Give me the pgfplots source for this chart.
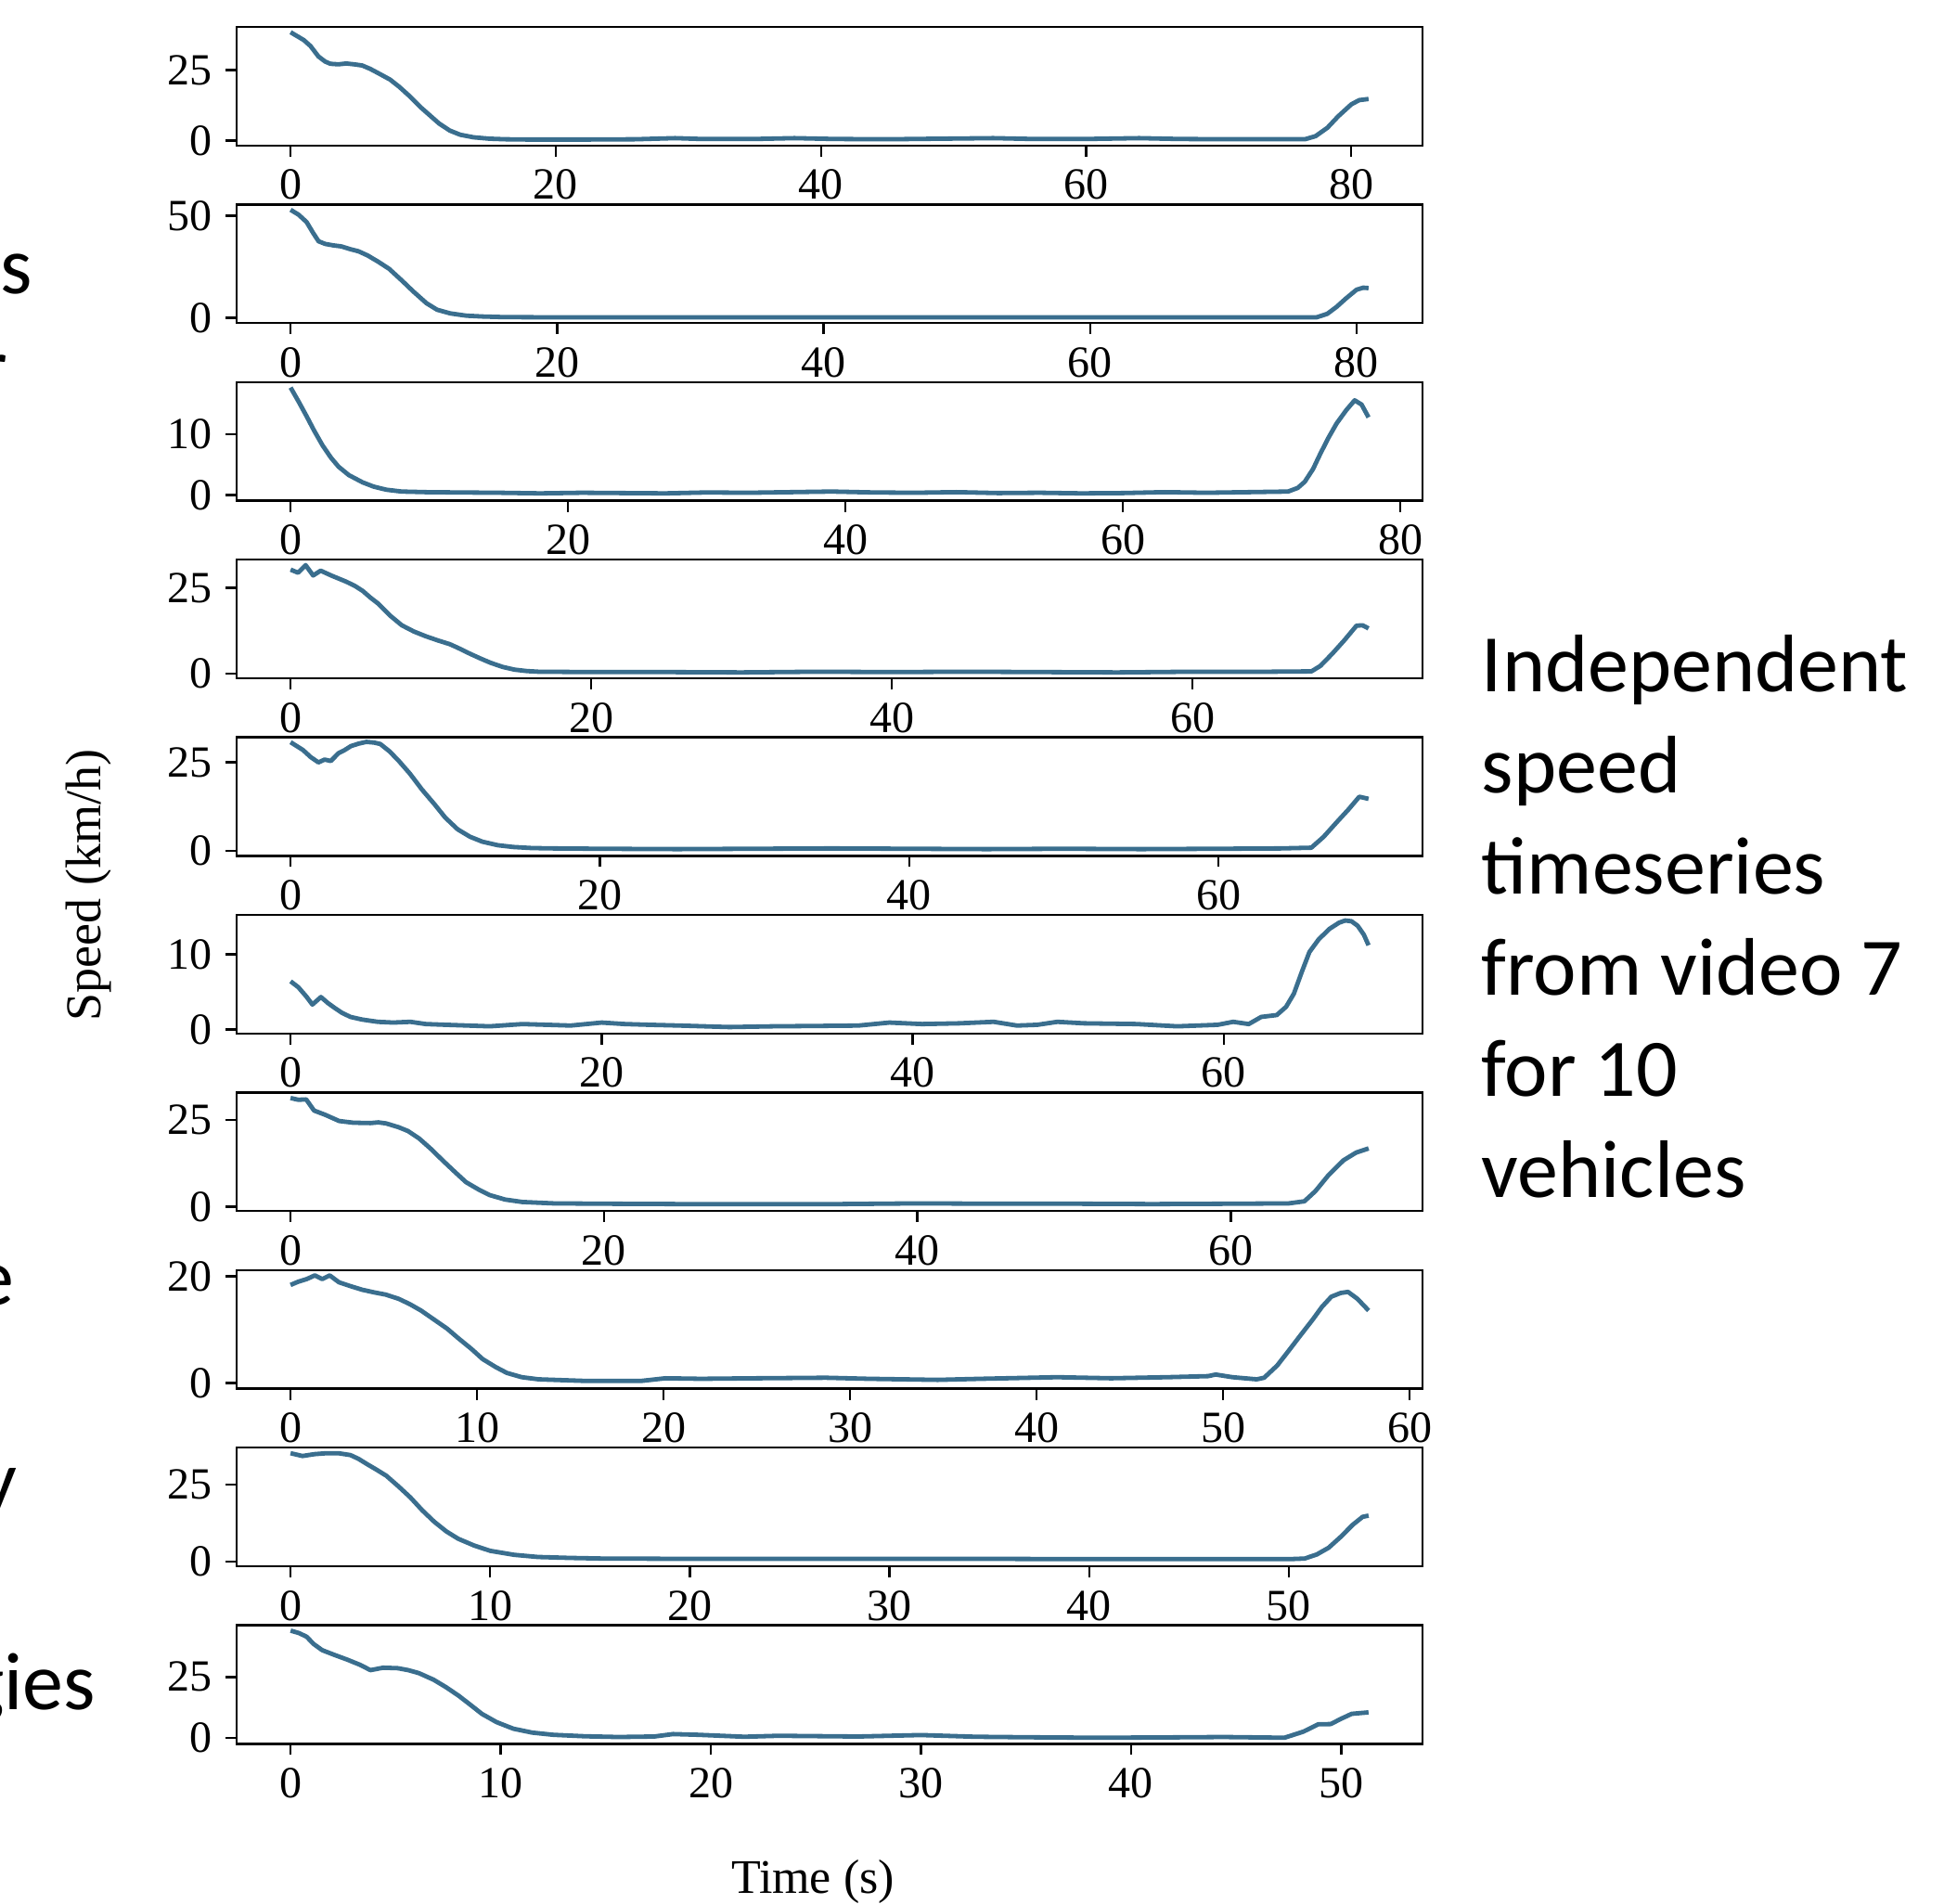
\documentclass[border=0pt]{standalone}
\usepackage{fontspec}
\setmainfont{Liberation Serif}
\newfontfamily\calib{Carlito}
\usepackage{pgfplots}
\pgfplotsset{compat=1.18}
\definecolor{linec}{RGB}{58,110,142}
\pgfplotsset{panel/.style={
  scale only axis, width=319.5pt, height=31.95pt,
  anchor=north west,
  axis line style={line width=0.6pt},
  tick align=outside, major tick length=3pt,
  every tick/.style={black, line width=0.6pt},
  xtick pos=left, ytick pos=left,
  tick label style={font=\fontsize{12}{14}\selectfont},
  /pgf/number format/assume math mode=true,
  scaled ticks=false, minor tick num=0,
}, ser/.style={line width=1.2pt, color=linec, mark=none, line join=round}}
\begin{document}
\begin{tikzpicture}
\useasboundingbox (0,0) rectangle (523.75pt,513pt);
% panel 1
\begin{axis}[panel, at={(63.75pt,505.75pt)}, xmin=-4.07, xmax=85.37, ymin=-1.8, ymax=40.3, xtick={0,20,40,60,80}, ytick={0,25}]
\addplot[ser] coordinates {(0,38.4)(0.5,37.0)(1.0,35.6)(1.5,33.5)(2.1,29.8)(2.6,28.0)(3.0,27.2)(3.6,27.0)(4.2,27.3)(4.8,27.0)(5.4,26.6)(6.0,25.4)(6.6,23.9)(7.5,21.6)(8.2,19.0)(9.0,15.6)(9.8,11.8)(10.5,8.9)(11.2,6.0)(12.0,3.5)(12.8,2.0)(13.8,1.1)(15.0,0.6)(16.2,0.4)(18,0.3)(22,0.3)(26,0.4)(29,0.8)(31,0.5)(35,0.5)(38,0.8)(41,0.5)(45,0.4)(49,0.6)(53,0.8)(56,0.5)(60,0.5)(64,0.8)(67,0.5)(71,0.4)(74,0.4)(76.5,0.4)(77.3,1.5)(78.2,4.5)(79.0,8.5)(80.0,12.8)(80.6,14.3)(81.3,14.7)};
\end{axis}
% panel 2
\begin{axis}[panel, at={(63.75pt,457.9pt)}, xmin=-4.05, xmax=84.95, ymin=-2.5, ymax=55.5, xtick={0,20,40,60,80}, ytick={0,50}]
\addplot[ser] coordinates {(0,52.9)(0.6,50.5)(1.2,46.9)(1.7,41.5)(2.1,37.5)(2.6,36.2)(3.2,35.5)(3.8,35.0)(4.5,33.6)(5.1,32.6)(5.8,30.5)(6.6,27.4)(7.4,24.0)(8.4,18.0)(9.2,13.0)(10.2,7.2)(11.0,4.0)(12.0,2.2)(13.2,1.1)(14.4,0.7)(16,0.4)(20,0.3)(30,0.3)(40,0.3)(50,0.3)(60,0.3)(70,0.3)(77.0,0.3)(77.8,2.0)(78.5,5.4)(79.2,9.5)(80.0,13.8)(80.5,14.8)(80.9,14.6)};
\end{axis}
% panel 3
\begin{axis}[panel, at={(63.75pt,410.05pt)}, xmin=-3.89, xmax=81.59, ymin=-0.9, ymax=18.6, xtick={0,20,40,60,80}, ytick={0,10}]
\addplot[ser] coordinates {(0,17.7)(0.3,16.5)(0.6,15.3)(1.15,13.0)(1.7,10.6)(2.3,8.2)(2.9,6.2)(3.45,4.7)(4.2,3.3)(5.2,2.1)(6.0,1.4)(6.9,0.9)(8.0,0.6)(9.8,0.5)(12,0.45)(15,0.4)(18,0.3)(21,0.4)(24,0.35)(27,0.3)(30,0.45)(33,0.4)(36,0.5)(39,0.6)(42,0.45)(45,0.4)(48,0.5)(51,0.35)(54,0.4)(57,0.3)(60,0.35)(63,0.5)(66,0.4)(69,0.5)(71.9,0.6)(72.6,1.2)(73.1,2.2)(73.7,4.3)(74.2,6.7)(74.8,9.4)(75.4,11.8)(76.1,14.0)(76.7,15.6)(77.2,14.9)(77.7,12.8)};
\end{axis}
% panel 4
\begin{axis}[panel, at={(63.75pt,362.2pt)}, xmin=-3.59, xmax=75.29, ymin=-1.3, ymax=33.2, xtick={0,20,40,60}, ytick={0,25}]
\addplot[ser] coordinates {(0,30.3)(0.5,29.4)(1.0,31.6)(1.5,28.6)(2.0,30.0)(2.7,28.6)(3.2,27.7)(3.7,26.8)(4.3,25.5)(4.8,24.1)(5.3,22.2)(5.8,20.5)(6.6,17.0)(7.4,14.1)(8.2,12.3)(9.0,10.9)(9.8,9.7)(10.6,8.6)(11.3,7.2)(11.9,5.9)(12.6,4.5)(13.3,3.2)(14.1,2.0)(14.9,1.2)(15.7,0.8)(16.5,0.6)(20,0.5)(25,0.5)(30,0.4)(35,0.6)(40,0.5)(45,0.6)(50,0.5)(55,0.4)(60,0.6)(65,0.6)(67.9,0.7)(68.5,2.3)(69.3,5.9)(70.1,9.8)(70.9,14.0)(71.3,14.1)(71.7,13.2)};
\end{axis}
% panel 5
\begin{axis}[panel, at={(63.75pt,314.35pt)}, xmin=-3.49, xmax=73.19, ymin=-1.4, ymax=32.1, xtick={0,20,40,60}, ytick={0,25}]
\addplot[ser] coordinates {(0,30.7)(0.4,29.6)(0.8,28.5)(1.3,26.5)(1.8,25.0)(2.2,25.8)(2.6,25.4)(3.1,27.6)(3.5,28.5)(3.9,29.6)(4.4,30.3)(4.9,30.8)(5.4,30.6)(5.8,30.2)(6.4,28.1)(7.0,25.4)(7.7,21.9)(8.5,17.3)(9.3,13.2)(10.0,9.4)(10.8,6.1)(11.6,4.0)(12.4,2.6)(13.4,1.6)(14.4,1.1)(15.6,0.8)(17,0.7)(20,0.6)(25,0.5)(30,0.6)(35,0.7)(40,0.6)(45,0.5)(50,0.6)(55,0.5)(60,0.6)(64,0.7)(66.0,0.9)(66.8,4.0)(67.6,7.9)(68.4,11.7)(69.1,15.3)(69.4,15.0)(69.7,14.7)};
\end{axis}
% panel 6
\begin{axis}[panel, at={(63.75pt,266.5pt)}, xmin=-3.47, xmax=72.77, ymin=-0.55, ymax=15.25, xtick={0,20,40,60}, ytick={0,10}]
\addplot[ser] coordinates {(0,6.4)(0.5,5.6)(1.0,4.4)(1.4,3.3)(1.95,4.3)(2.4,3.5)(2.8,2.9)(3.3,2.2)(3.85,1.65)(4.6,1.3)(5.6,1.0)(6.6,0.9)(7.7,1.0)(8.7,0.7)(10,0.6)(12.8,0.4)(14.9,0.7)(16.5,0.6)(18,0.5)(20,0.9)(21.5,0.7)(23.1,0.6)(25,0.5)(28.2,0.3)(31,0.4)(34,0.45)(36.5,0.5)(38.5,0.9)(40.6,0.7)(43,0.8)(45.2,1.0)(46.7,0.5)(48,0.6)(49.3,1.0)(51,0.8)(54.4,0.7)(57,0.4)(59.6,0.6)(60.6,1.0)(61.6,0.7)(62.4,1.65)(63.4,1.9)(64.0,3.0)(64.5,4.75)(65.0,7.6)(65.5,10.3)(66.1,12.0)(66.8,13.4)(67.4,14.2)(67.8,14.5)(68.2,14.4)(68.6,13.8)(69.0,12.6)(69.3,11.2)};
\end{axis}
% panel 7
\begin{axis}[panel, at={(63.75pt,218.65pt)}, xmin=-3.44, xmax=72.24, ymin=-1.2, ymax=32.9, xtick={0,20,40,60}, ytick={0,25}]
\addplot[ser] coordinates {(0,31.3)(0.5,30.8)(1.0,30.9)(1.5,27.7)(2.2,26.5)(3.1,24.7)(4.0,24.2)(5.1,24.1)(5.6,24.3)(6.1,24.0)(6.9,22.9)(7.5,21.8)(8.2,19.7)(9.0,16.5)(9.7,13.4)(10.5,10.0)(11.2,7.1)(12.0,5.0)(12.7,3.4)(13.7,2.1)(14.8,1.4)(16.8,1.0)(20,0.9)(25,0.8)(30,0.8)(35,0.8)(40,1.0)(45,0.9)(50,0.9)(55,0.8)(60,0.9)(63.7,1.0)(64.7,1.6)(65.4,4.5)(66.2,8.9)(67.2,13.4)(68.0,15.6)(68.8,16.8)};
\end{axis}
% panel 8
\begin{axis}[panel, at={(63.75pt,170.8pt)}, xmin=-2.89, xmax=60.69, ymin=-1.05, ymax=21.2, xtick={0,10,20,30,40,50,60}, ytick={0,20}]
\addplot[ser] coordinates {(0,18.4)(0.4,19.0)(0.86,19.5)(1.3,20.2)(1.7,19.5)(2.1,20.2)(2.6,18.9)(3.2,18.2)(3.85,17.5)(4.5,17.0)(5.1,16.6)(5.8,15.8)(6.4,14.8)(7.0,13.6)(7.7,11.9)(8.4,10.2)(9.0,8.4)(9.7,6.4)(10.3,4.5)(11.0,3.0)(11.6,1.9)(12.4,1.1)(13.3,0.7)(15.8,0.4)(18.8,0.4)(20.1,0.9)(22,0.8)(25,0.9)(28.7,1.0)(31,0.8)(34.7,0.6)(37,0.8)(41.1,1.1)(44,0.9)(47,1.1)(49.2,1.3)(49.6,1.6)(50.5,1.1)(51.8,0.7)(52.2,1.0)(52.9,3.3)(53.5,6.0)(54.2,9.2)(54.8,11.9)(55.3,14.3)(55.8,16.2)(56.3,16.9)(56.7,17.1)(57.2,15.8)(57.8,13.6)};
\end{axis}
% panel 9
\begin{axis}[panel, at={(63.75pt,122.95pt)}, xmin=-2.7, xmax=56.7, ymin=-1.5, ymax=36.9, xtick={0,10,20,30,40,50}, ytick={0,25}]
\addplot[ser] coordinates {(0,35.1)(0.6,34.2)(1.2,34.8)(1.8,35.1)(2.4,35.1)(3.0,34.5)(3.4,33.3)(3.8,31.7)(4.3,29.8)(4.8,27.8)(5.4,24.4)(6.0,20.8)(6.6,16.6)(7.2,12.9)(7.8,9.8)(8.4,7.4)(9.2,5.2)(10.0,3.5)(11.2,2.2)(12.4,1.5)(14.0,1.2)(15.6,1.0)(20,0.9)(25,0.9)(30,0.9)(35,0.9)(40,0.8)(45,0.8)(50,0.8)(50.8,1.0)(51.4,2.3)(52.0,4.5)(52.6,8.0)(53.2,11.9)(53.7,14.5)(54.0,14.9)};
\end{axis}
% panel 10
\begin{axis}[panel, at={(63.75pt,75.1pt)}, xmin=-2.57, xmax=53.87, ymin=-2.4, ymax=46.2, xtick={0,10,20,30,40,50}, ytick={0,25}]
\addplot[ser] coordinates {(0,44.0)(0.4,43.0)(0.76,41.5)(1.1,38.5)(1.5,36.0)(2.1,34.0)(2.7,32.1)(3.3,30.0)(3.8,27.8)(4.4,28.8)(5.1,28.6)(5.6,27.8)(6.1,26.6)(6.8,23.9)(7.4,20.8)(8.0,17.3)(8.6,13.3)(9.1,9.9)(9.8,6.5)(10.6,3.8)(11.5,2.2)(12.5,1.3)(14.0,0.7)(15.6,0.4)(17.3,0.6)(18.2,1.6)(19.4,1.3)(21.6,0.5)(23.2,0.9)(27,0.6)(30,1.2)(32.6,0.5)(35,0.3)(38.3,0.1)(41,0.2)(44.4,0.4)(47.3,0.1)(48.2,2.6)(48.9,5.6)(49.5,5.7)(50.0,7.9)(50.5,9.9)(51.3,10.5)};
\end{axis}
% axis labels
\node[rotate=90, inner sep=0pt, font=\fontsize{13.5}{16}\selectfont] at (24pt,274.5pt) {Speed (km/h)};
\node[inner sep=0pt, font=\fontsize{13}{16}\selectfont] at (219pt,6pt) {Time (s)};
% right text
\begin{scope}[every node/.style={anchor=base west, inner sep=0pt, font=\calib\fontsize{22}{27}\selectfont}]
\node at (399pt,326.5pt) {Independent};
\node at (399pt,299.25pt) {speed};
\node at (399pt,272pt) {timeseries};
\node at (399pt,244.75pt) {from video 7};
\node at (399pt,217.5pt) {for 10};
\node at (399pt,190.25pt) {vehicles};
\end{scope}
% left text (cut at the page edge, as in the reference)
\begin{scope}[every node/.style={anchor=base east, inner sep=0pt, font=\calib\fontsize{22}{27}\selectfont}]
\node at (9pt,433.75pt) {s};
\node at (2.25pt,406.5pt) {r};
\node at (4pt,161.25pt) {e};
\node at (4.75pt,106.75pt) {y};
\node at (26pt,52.25pt) {gies};
\end{scope}
\end{tikzpicture}
\end{document}
